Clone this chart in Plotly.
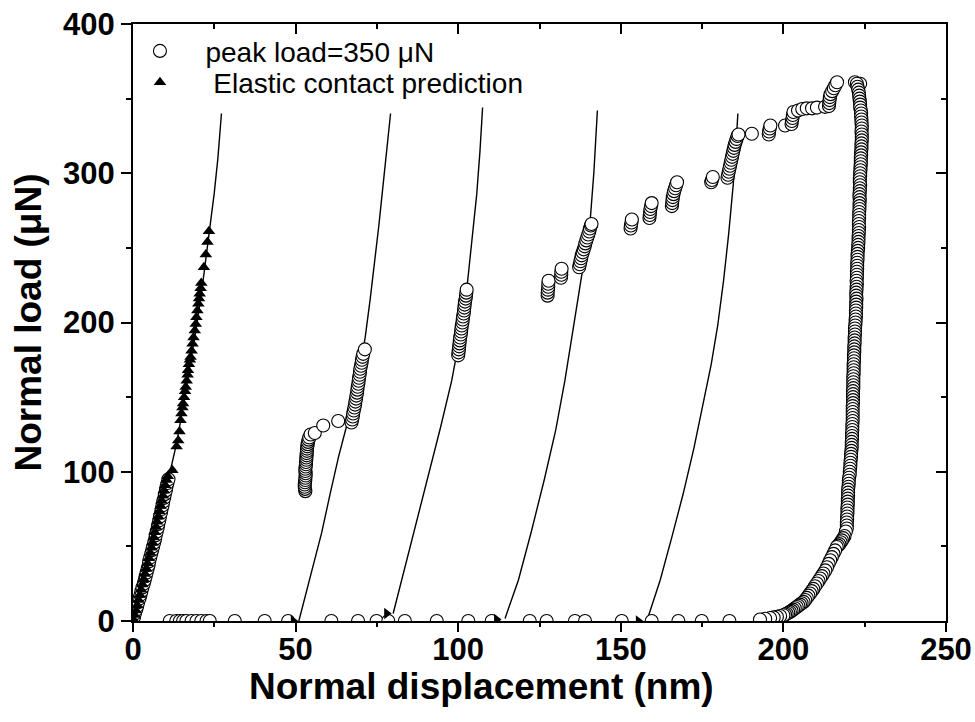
import plotly.graph_objects as go

# ---- measured data (x: nm, y: uN) ----
# loading segment 1 (circles), (x, y) pairs
load1_pts = [(0.0, 0), (0.3, 2.5), (0.6, 5), (1.0, 7.5), (1.3, 10), (1.6, 12.5), (2.0, 15),
             (2.3, 17.5), (2.6, 20), (2.9, 22.5), (3.3, 25), (3.6, 27.5), (3.9, 30), (4.2, 32.5),
             (4.5, 35), (4.8, 37.5), (5.0, 40), (5.3, 42.5), (5.6, 45), (5.9, 47.5), (6.2, 50),
             (6.5, 52.5), (6.8, 55), (7.0, 57.5), (7.3, 60), (7.6, 62.5), (7.8, 65), (8.1, 67.5),
             (8.3, 70), (8.6, 72.5), (8.8, 75), (9.1, 77.5), (9.3, 80), (9.6, 82.5), (9.8, 85),
             (10.1, 87.5), (10.3, 90), (10.6, 92.5), (10.9, 95)]

# circles lying on the zero-load baseline
base_x = [11.3, 13.3, 14.4, 15.4, 16.4, 18.0, 19.5, 21.0, 22.6, 23.6, 31.3, 40.5, 47.7,
          61.0, 69.2, 74.9, 78.5, 83.6, 93.4, 103.1, 110.3, 122.0, 127.2, 135.9, 139.0,
          150.3, 159.5, 167.7, 174.9, 183.4]

# loading clusters after each pop-in, (x, y) pairs
clus_pts = [
    # cluster 2
    (53.0, 87), (52.9, 88.5), (52.8, 90), (52.8, 91.5), (52.9, 93), (53.0, 94.5), (53.0, 96),
    (53.1, 97.5), (53.1, 99), (53.0, 100.5), (53.0, 102), (53.1, 103.5), (53.2, 105),
    (53.2, 106.5), (53.3, 108), (53.3, 109.5), (53.4, 111), (53.4, 112.5), (53.5, 114),
    (53.5, 115.5), (53.6, 117), (53.7, 118.5), (53.8, 120), (54.0, 121.5), (54.2, 123),
    (54.6, 125), (55.9, 126), (58.5, 131), (63.1, 134),
    (67.2, 133), (67.4, 135), (67.6, 137), (67.7, 139), (67.9, 141), (68.1, 143), (68.3, 145),
    (68.4, 147), (68.6, 149), (68.7, 151), (68.9, 153), (69.0, 155), (69.1, 157), (69.3, 159),
    (69.4, 161), (69.5, 163), (69.7, 165), (69.8, 167), (69.9, 169), (70.1, 171), (70.3, 173),
    (70.4, 175), (70.6, 177), (70.8, 179), (71.3, 182),
    # cluster 3
    (100.0, 178), (100.1, 180), (100.2, 182), (100.3, 184), (100.4, 186), (100.5, 188),
    (100.6, 190), (100.8, 192), (100.9, 194), (101.0, 196), (101.1, 198), (101.3, 200),
    (101.4, 202), (101.5, 204), (101.7, 206), (101.8, 208), (101.9, 210), (102.0, 212),
    (102.1, 214), (102.3, 216), (102.4, 218), (102.5, 220), (102.6, 222),
    # cluster 4
    (127.5, 218), (127.5, 220), (127.6, 222), (127.7, 224), (127.7, 226), (127.8, 228),
    (131.6, 230), (131.7, 232), (131.7, 234), (131.8, 236),
    (137.2, 237), (137.4, 239), (137.6, 241), (137.8, 243), (138.0, 245), (138.3, 247),
    (138.6, 249), (138.9, 251), (139.1, 253), (139.4, 255), (139.7, 257), (140.0, 259),
    (140.3, 261), (140.5, 263), (140.8, 265), (141.0, 266),
    # cluster 5
    (153.0, 263), (153.1, 265), (153.3, 267), (153.4, 269),
    (158.8, 270), (158.9, 272), (159.0, 274), (159.1, 276), (159.3, 278), (159.5, 280),
    (165.7, 278), (165.8, 280), (165.9, 282), (166.0, 284), (166.2, 286), (166.4, 288),
    (166.7, 290), (167.0, 292), (167.3, 294),
    (177.8, 294), (178.0, 295.5), (178.3, 297.5),
    (182.8, 297), (183.0, 299), (183.2, 301), (183.4, 303), (183.6, 305), (183.8, 307),
    (184.0, 309), (184.2, 311), (184.4, 313), (184.6, 315), (184.8, 317), (185.0, 319),
    (185.3, 321), (185.6, 323), (185.9, 325), (186.2, 326),
    # cluster 6
    (190.3, 326.5), (195.5, 326), (195.6, 328), (195.8, 330), (196.0, 332), (200.5, 332),
    (202.5, 333), (202.6, 335), (202.8, 337), (202.9, 339), (203.1, 341),
    (204.5, 342), (205.8, 343), (207.2, 343.5), (208.8, 343.5), (210.3, 344), (212.8, 344.5),
    (214.0, 345), (214.1, 347), (214.2, 349), (214.3, 351), (214.5, 353), (215.0, 355),
    (215.5, 357), (216.0, 359), (216.5, 361),
]

# unloading branch, (x, y) pairs
unload_pts = [
    (222.0, 361), (223.6, 360),
    (222.6, 360), (222.8, 358), (223.0, 356), (223.2, 354), (223.3, 352), (223.4, 350),
    (223.5, 348), (223.6, 346), (223.6, 344), (223.8, 342), (223.9, 340), (223.9, 338),
    (224.0, 336), (224.0, 334), (224.1, 332), (224.1, 330), (224.0, 328), (224.1, 326),
    (224.1, 324), (224.1, 322), (224.0, 320), (224.0, 318), (224.0, 316), (223.9, 314),
    (223.9, 312), (223.8, 310), (223.8, 308), (223.8, 306), (223.7, 304), (223.7, 302),
    (223.6, 300), (223.6, 298), (223.5, 296), (223.5, 294), (223.6, 292), (223.5, 290),
    (223.5, 288), (223.4, 286), (223.4, 284), (223.5, 282), (223.4, 280), (223.4, 278),
    (223.4, 276), (223.3, 274), (223.3, 272), (223.3, 270), (223.2, 268), (223.2, 266),
    (223.3, 264), (223.2, 262), (223.2, 260), (223.1, 258), (223.1, 256), (223.1, 254),
    (223.0, 252), (223.0, 250), (222.9, 248), (222.8, 246), (222.8, 244), (222.8, 242),
    (222.7, 240), (222.7, 238), (222.7, 236), (222.6, 234), (222.6, 232), (222.6, 230),
    (222.5, 228), (222.6, 226), (222.5, 224), (222.5, 222), (222.4, 220), (222.4, 218),
    (222.5, 216), (222.4, 214), (222.4, 212), (222.4, 210), (222.3, 208), (222.3, 206),
    (222.3, 204), (222.2, 202), (222.2, 200), (222.1, 198), (222.0, 196), (222.0, 194),
    (222.0, 192), (221.9, 190), (221.9, 188), (221.9, 186), (221.8, 184), (221.8, 182),
    (221.8, 180), (221.7, 178), (221.7, 176), (221.7, 174), (221.6, 172), (221.6, 170),
    (221.6, 168), (221.6, 166), (221.5, 164), (221.5, 162), (221.5, 160), (221.5, 158),
    (221.5, 156), (221.4, 154), (221.4, 152), (221.4, 150), (221.4, 148), (221.4, 146),
    (221.3, 144), (221.3, 142), (221.3, 140), (221.3, 138), (221.3, 136), (221.3, 134),
    (221.2, 132), (221.2, 130), (221.2, 128), (221.1, 126), (221.1, 124), (221.1, 122),
    (221.0, 120), (221.0, 118), (221.0, 116), (220.9, 114), (220.8, 112), (220.8, 110),
    (220.7, 108), (220.6, 106), (220.6, 104), (220.5, 102), (220.4, 100), (220.4, 98),
    (220.2, 96), (220.1, 94), (220.1, 92), (220.0, 90), (219.9, 88), (219.9, 86),
    (219.9, 84), (219.8, 82), (219.8, 80), (219.8, 78), (219.7, 76), (219.7, 74),
    (219.7, 72), (219.6, 70), (219.6, 68), (219.5, 66), (219.5, 64), (219.5, 62),
    (219.2, 60), (218.8, 57), (218.4, 55.5), (218.0, 54), (217.6, 52.8), (217.2, 51.5),
    (216.8, 50.5), (216.4, 49.6), (215.9, 47.3), (215.4, 45), (214.9, 42.8), (214.4, 40.7),
    (213.9, 38.3), (213.4, 36), (212.9, 33.9), (212.3, 31.8), (211.8, 30.1), (211.3, 28.5),
    (210.8, 26.8), (210.3, 25.1), (209.7, 23.3), (209.2, 21.5), (208.7, 20), (208.2, 18.4),
    (207.7, 17), (207.2, 15.5), (206.7, 14.1), (206.2, 12.8), (205.6, 11.9), (205.1, 11),
    (204.6, 10.2), (204.1, 9.4), (203.5, 8.5), (203.0, 7.6), (202.5, 6.8), (202.0, 6.1),
    (201.5, 5.5), (201.0, 4.9), (200.5, 4.4), (200.0, 3.9), (199.0, 3.3), (198.0, 2.8),
    (197.0, 2.4), (195.9, 2.0), (194.4, 1.5), (192.8, 1.0),
]

# elastic contact prediction (triangles), (x, y) pairs
tri_pts = [(0.1, 1), (0.5, 4), (0.9, 7), (1.3, 10.5), (1.7, 14), (2.1, 17.5), (2.5, 21),
           (2.9, 24.5), (3.3, 28), (3.7, 31.5), (4.1, 35), (4.5, 38.5), (4.9, 42), (5.3, 45.5),
           (5.7, 49), (6.0, 52.5), (6.4, 56), (6.7, 59.5), (7.1, 63), (7.4, 66.5), (7.8, 70),
           (8.1, 73.5), (8.5, 77), (8.8, 80.5), (9.2, 84), (9.5, 87.5), (9.9, 91), (10.3, 94.5),
           (10.7, 97), (12.1, 101), (13.4, 117), (13.9, 121), (14.3, 127), (14.6, 134.5),
           (14.9, 139), (15.2, 143), (15.4, 145.7), (15.7, 150), (16.0, 154), (16.2, 156.8),
           (16.5, 161), (16.8, 165), (16.9, 168), (17.2, 172), (17.5, 175), (17.7, 176.9),
           (18.0, 181), (18.3, 185.8), (18.6, 190), (19.0, 194.7), (19.3, 199), (19.5, 203.6),
           (19.8, 208), (20.1, 212.6), (20.3, 216), (20.5, 219.3), (20.8, 223), (21.0, 226.4),
           (21.8, 237.1), (22.4, 245.6), (22.9, 253.9), (23.35, 261.2)]

# start markers of each prediction curve
start_x = [0.0, 49.3, 78.0, 111.8, 155.4]
start_y = [0, 0, 5, 1, 0]

# prediction curves
line1_x = [0.0, 2.6, 5.0, 7.2, 9.5, 11.6, 13.3, 14.8, 16.4, 18.0, 19.6, 21.2, 22.6, 23.8, 25.0, 26.1, 27.2]
line1_y = [0, 20, 40, 60, 82, 100, 118, 136, 156, 176, 198, 222, 245, 266, 287, 310, 340]
line2_x = [51.0, 53.4, 55.8, 58.0, 60.6, 63.2, 65.6, 67.9, 69.8, 71.4, 72.9, 74.3, 75.6, 76.8, 78.0, 79.2]
line2_y = [0, 20, 40, 59, 85, 110, 130, 150, 170, 190, 215, 240, 265, 290, 315, 340]
line3_x = [80.0, 82.1, 84.1, 87.5, 91.0, 94.6, 98.0, 100.5, 102.6, 104.3, 105.7, 106.7, 107.5]
line3_y = [5, 22.8, 40.7, 70, 100, 130, 161, 190, 221.5, 255, 286, 315, 344]
line4_x = [114.4, 118.5, 122.5, 126.5, 130.0, 132.8, 135.3, 137.8, 140.5, 141.7, 142.8]
line4_y = [1.7, 27.3, 60, 95, 128, 161, 195, 230, 266, 300, 342]
line5_x = [158.0, 160.0, 162.1, 165.8, 169.2, 172.5, 175.4, 177.8, 179.8, 181.6, 183.2, 184.6, 185.4, 186.0]
line5_y = [0, 13, 27.3, 57, 85.4, 116, 145.7, 172, 198, 228, 260, 293, 318, 340]

x_range = [0, 250]
y_range = [0, 400]
x_ticks = [0, 50, 100, 150, 200, 250]
y_ticks = [0, 100, 200, 300, 400]

FONT = "Liberation Sans, Arial, sans-serif"

fig = go.Figure()

for lx, ly in [(line1_x, line1_y), (line2_x, line2_y), (line3_x, line3_y),
               (line4_x, line4_y), (line5_x, line5_y)]:
    fig.add_trace(go.Scatter(x=lx, y=ly, mode="lines", line=dict(color="black", width=1.4),
                             showlegend=False, hoverinfo="skip"))

circ_x = [p[0] for p in load1_pts] + base_x + [p[0] for p in clus_pts] + [p[0] for p in unload_pts]
circ_y = [p[1] for p in load1_pts] + [0] * len(base_x) + [p[1] for p in clus_pts] + [p[1] for p in unload_pts]
fig.add_trace(go.Scatter(x=circ_x, y=circ_y, mode="markers", name="peak load=350 μN",
                         legend="legend",
                         marker=dict(symbol="circle", size=13, color="white",
                                     line=dict(color="black", width=1.1))))
fig.add_trace(go.Scatter(x=[p[0] for p in tri_pts], y=[p[1] for p in tri_pts], mode="markers",
                         name="\u00a0Elastic contact prediction", legend="legend2",
                         marker=dict(symbol="triangle-up", size=11, color="black",
                                     line=dict(color="black", width=0))))
fig.add_trace(go.Scatter(x=start_x, y=start_y, mode="markers", showlegend=False,
                         marker=dict(symbol="triangle-right", size=10, color="black")))
# helper traces for the extra tick-only axes
fig.add_trace(go.Scatter(x=[None], y=[None], xaxis="x2", yaxis="y2", showlegend=False,
                         hoverinfo="skip"))
fig.add_trace(go.Scatter(x=[None], y=[None], xaxis="x3", yaxis="y", showlegend=False,
                         hoverinfo="skip"))

tickfont = dict(family=FONT, size=31, color="black", weight="bold")
titlefont = dict(family=FONT, size=37, color="black", weight="bold")
legfont = dict(family=FONT, size=28, color="black")

fig.update_layout(
    template="none",
    width=975, height=722,
    margin=dict(l=133, r=29, t=24, b=101, autoexpand=False),
    paper_bgcolor="white", plot_bgcolor="white",
    font=dict(family=FONT, color="black"),
    showlegend=True,
    legend=dict(x=-0.0228, y=0.9963, xanchor="left", yanchor="top",
                bgcolor="rgba(0,0,0,0)", borderwidth=0, font=legfont, itemwidth=81),
    legend2=dict(x=-0.0228, y=0.944, xanchor="left", yanchor="top",
                 bgcolor="rgba(0,0,0,0)", borderwidth=0, font=legfont, itemwidth=81),
    # bottom axis: labels only (ticks come from xaxis3)
    xaxis=dict(range=x_range, tickvals=x_ticks, ticktext=[str(v) for v in x_ticks],
               showgrid=False, zeroline=False, automargin=False,
               showline=True, linecolor="black", linewidth=2, mirror=True,
               ticks="", tickfont=tickfont, title=dict(text="")),
    xaxis3=dict(range=x_range, overlaying="x", side="bottom", anchor="y", automargin=False,
                tickvals=x_ticks, showticklabels=False, showgrid=False, zeroline=False,
                showline=False, ticks="outside", ticklen=10, tickwidth=2, tickcolor="black",
                minor=dict(dtick=25, tick0=0, ticks="outside", ticklen=5, tickwidth=2,
                           tickcolor="black", showgrid=False)),
    yaxis=dict(range=y_range, tickvals=y_ticks, ticktext=[str(v) for v in y_ticks],
               showgrid=False, zeroline=False, automargin=False,
               showline=True, linecolor="black", linewidth=2, mirror=True,
               ticks="outside", ticklen=10, tickwidth=2, tickcolor="black",
               minor=dict(dtick=50, tick0=0, ticks="outside", ticklen=5, tickwidth=2,
                          tickcolor="black", showgrid=False),
               tickfont=tickfont,
               title=dict(text="Normal load (μN)", font=titlefont, standoff=10)),
    xaxis2=dict(range=x_range, overlaying="x", side="top", anchor="y", automargin=False,
                tickvals=x_ticks, showticklabels=False, showgrid=False, zeroline=False,
                showline=False, ticks="inside", ticklen=10, tickwidth=2, tickcolor="black",
                minor=dict(dtick=25, tick0=0, ticks="inside", ticklen=5, tickwidth=2,
                           tickcolor="black", showgrid=False)),
    yaxis2=dict(range=y_range, overlaying="y", side="right", anchor="x", automargin=False,
                tickvals=y_ticks, showticklabels=False, showgrid=False, zeroline=False,
                showline=False, ticks="inside", ticklen=10, tickwidth=2, tickcolor="black",
                minor=dict(dtick=50, tick0=0, ticks="inside", ticklen=5, tickwidth=2,
                           tickcolor="black", showgrid=False)),
    annotations=[dict(text="Normal displacement (nm)", xref="paper", yref="paper",
                      x=0.429, y=-0.110, xanchor="center", yanchor="middle",
                      showarrow=False, font=titlefont)],
)

fig.write_html("out.html")
